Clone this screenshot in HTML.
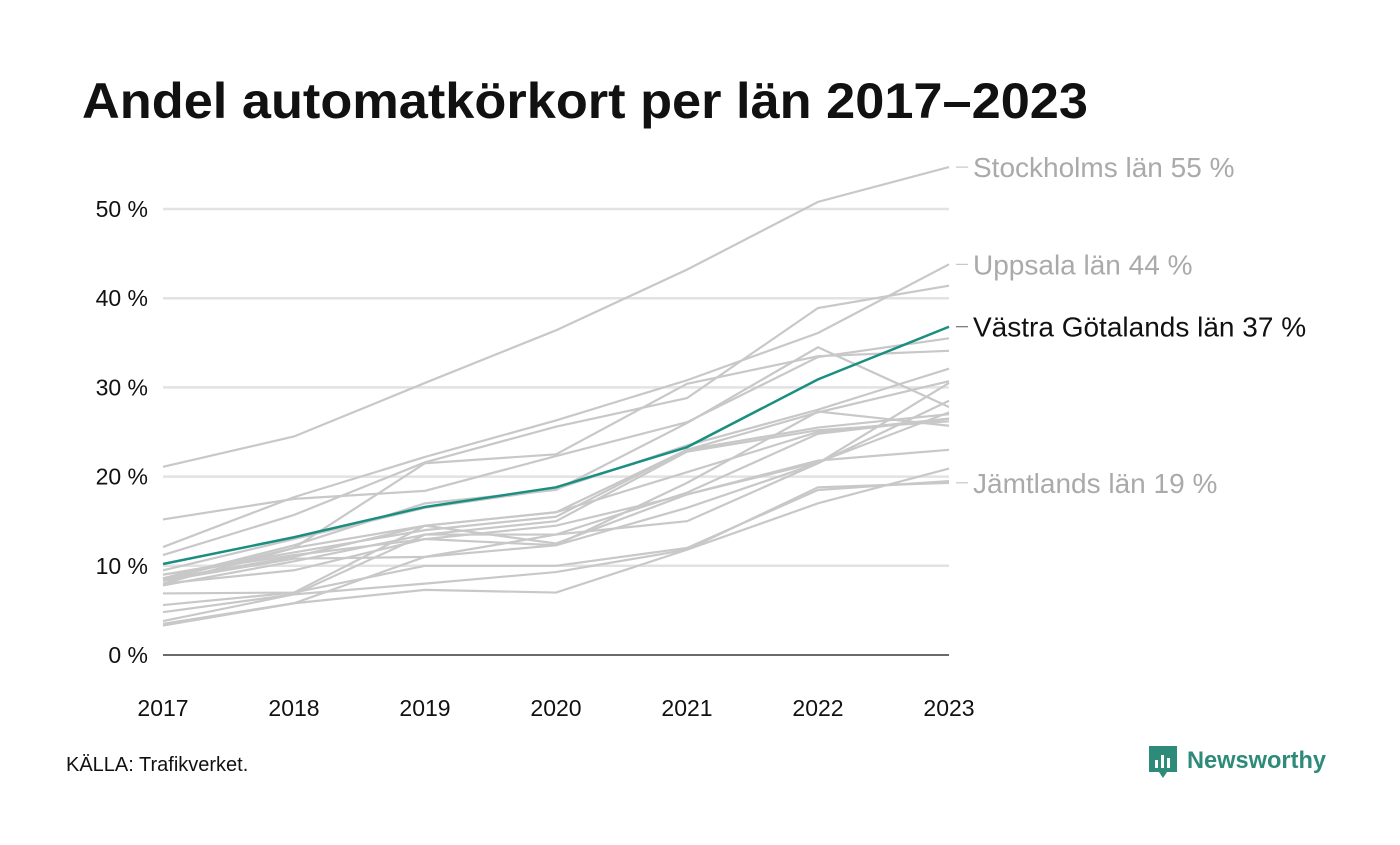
<!DOCTYPE html>
<html><head><meta charset="utf-8"><style>
body{margin:0;background:#fff;width:1400px;height:840px;overflow:hidden;font-family:"Liberation Sans",sans-serif}
</style></head><body>
<svg width="1400" height="840">
<text x="82" y="118" font-size="50" font-weight="bold" fill="#111" textLength="1006" lengthAdjust="spacingAndGlyphs">Andel automatkörkort per län 2017–2023</text>
<g id="grid"></g><g id="lines"></g><g id="labels"></g>
<text x="66" y="771" font-size="20" fill="#111">KÄLLA: Trafikverket.</text>
<g>
<path d="M1149 746h28v26h-10l-4 6-4-6h-10z" fill="#2e8b7a"/>
<rect x="1155" y="760" width="3" height="8" fill="#fff"/><rect x="1161" y="755" width="3" height="13" fill="#fff"/><rect x="1167" y="758" width="3" height="10" fill="#fff"/>
<text x="1187" y="768" font-size="24" font-weight="bold" fill="#2e8b7a" textLength="139" lengthAdjust="spacingAndGlyphs">Newsworthy</text>
</g>
</svg>
<script>
const years=[2017,2018,2019,2020,2021,2022,2023];
const yTicks=[0,10,20,30,40,50];
const names=["Stockholms län","Uppsala län","Län 3","Västra Götalands län","Län 5","Län 6","Län 7","Län 8","Län 9","Län 10","Län 11","Län 12","Län 13","Län 14","Län 15","Län 16","Jämtlands län","Län 18","Län 19","Län 20","Län 21"];
const s0=[21.1,24.5,30.5,36.4,43.2,50.8,54.7];
const s1=[12.1,17.7,22.2,26.3,30.8,36.1,43.8];
const s2=[11.2,15.7,21.6,25.6,28.8,38.9,41.4];
const s3=[10.2,13.2,16.6,18.8,23.3,30.9,36.8];
const s4=[8.6,12.3,17.0,18.5,26.0,34.5,27.8];
const s5=[15.2,17.5,18.4,22.3,26.1,33.4,35.5];
const s6=[8.0,12.0,21.5,22.5,30.4,33.5,34.1];
const s7=[9.5,13.0,16.5,18.6,23.5,27.5,32.1];
const s8=[8.5,11.0,14.5,16.0,23.0,27.2,30.7];
const s9=[9.0,11.5,14.0,15.5,23.0,25.5,27.0];
const s10=[7.8,10.5,13.5,15.0,22.8,25.2,26.2];
const s11=[8.0,9.5,13.0,12.3,19.3,27.3,25.7];
const s12=[5.6,7.0,14.5,12.5,18.0,21.8,23.0];
const s13=[4.8,6.8,13.5,13.5,18.2,24.8,26.5];
const s14=[8.3,10.8,11.0,12.3,16.5,21.5,30.5];
const s15=[6.9,7.0,10.0,10.0,12.0,18.5,19.5];
const s16=[3.8,6.8,8.0,9.3,11.8,18.8,19.3];
const s17=[3.5,5.8,7.3,7.0,11.8,17.0,20.9];
const s18=[3.3,5.8,11.0,13.5,15.0,21.5,28.5];
const s19=[9.0,11.2,13.0,14.5,18.0,21.6,27.2];
const s20=[8.5,12.0,14.5,16.0,20.5,25.0,26.5];
const series=[s0,s1,s2,s3,s4,s5,s6,s7,s8,s9,s10,s11,s12,s13,s14,s15,s16,s17,s18,s19,s20];
const labelIdx=[0,1,3,16];
const NS="http://www.w3.org/2000/svg";
const X=i=>163+i*131, Y=v=>655-v*8.92;
function mk(t,a,p){const e=document.createElementNS(NS,t);for(const k in a)e.setAttribute(k,a[k]);p.appendChild(e);return e;}
const grid=document.getElementById('grid'),lines=document.getElementById('lines'),labels=document.getElementById('labels');
yTicks.forEach(v=>{
 const l=mk('line',{x1:163,x2:949,y1:Y(v),y2:Y(v),stroke:v==0?'#111':'#e2e2e4','stroke-width':v==0?1.2:2.5},grid);
 
 
 const t=mk('text',{x:148,y:Y(v)+8,'text-anchor':'end','font-size':23,fill:'#111'},grid);t.textContent=v+' %';
 
 
});
years.forEach((y,i)=>{
 const t=mk('text',{x:X(i),y:716,'text-anchor':'middle','font-size':23,fill:'#111'},grid);t.textContent=y;
 
 
});
series.forEach((s,k)=>{ if(k==3)return;
 const p=mk('polyline',{points:s.map((v,i)=>X(i)+','+Y(v)).join(' '),fill:'none',stroke:'#c8c8c8','stroke-width':2.2},lines);
 
 
});
const hl=mk('polyline',{points:s3.map((v,i)=>X(i)+','+Y(v)).join(' '),fill:'none',stroke:'#1a8f80','stroke-width':2.5},lines);


labelIdx.forEach(k=>{
 const v=series[k][6],hi=k==3;
 mk('line',{x1:956,x2:968,y1:Y(v),y2:Y(v),stroke:hi?'#555':'#bbb','stroke-width':1},labels);
 const t=mk('text',{x:973,y:Y(v)+10,'font-size':28,fill:hi?'#111':'#aaa'},labels);
 t.textContent=names[k]+' '+Math.round(v)+' %';
 
 
});
</script>
</body></html>
